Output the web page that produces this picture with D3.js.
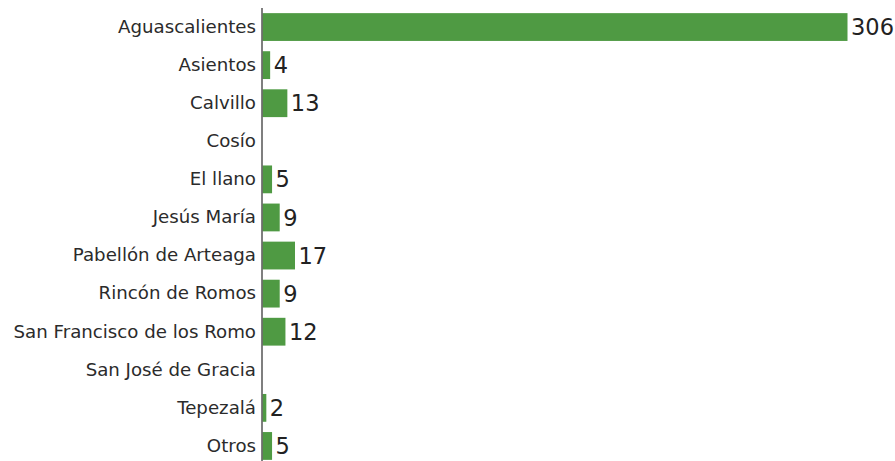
<!DOCTYPE html>
<html>
<head>
<meta charset="utf-8">
<script src="https://cdn.jsdelivr.net/npm/d3@7"></script>
<style>
  html, body { margin: 0; padding: 0; background: #fff; }
  svg { display: block; }
</style>
</head>
<body>
<svg id="chart" width="895" height="461"></svg>
<script>
const categories = ["Aguascalientes", "Asientos", "Calvillo", "Cosío", "El llano", "Jesús María",
  "Pabellón de Arteaga", "Rincón de Romos", "San Francisco de los Romo", "San José de Gracia",
  "Tepezalá", "Otros"];
const values = [306, 4, 13, 0, 5, 9, 17, 9, 12, 0, 2, 5];

const svg = d3.select("#chart");
const axisX = 262;

const x = d3.scaleLinear().domain([0, 306]).range([axisX, 847]);
const y = d3.scaleBand().domain(categories).range([8, 465]).paddingInner(0.27).paddingOuter(0.135);

const data = categories.map((c, i) => ({ c, v: values[i] }));

svg.selectAll("rect.bar").data(data.filter(d => d.v > 0)).join("rect")
  .attr("class", "bar")
  .attr("x", x(0) + 0.5)
  .attr("y", d => y(d.c))
  .attr("width", d => x(d.v) - x(0))
  .attr("height", y.bandwidth())
  .attr("fill", "#4f9a43");

const yAxis = d3.axisLeft(y).tickSize(0).tickPadding(6);
const g = svg.append("g").attr("transform", `translate(${axisX},0)`).call(yAxis);
g.select(".domain").remove();
g.selectAll("text")
  .attr("font-family", "DejaVu Sans")
  .attr("font-size", 18.2)
  .attr("fill", "#2b2b2b");

svg.append("line")
  .attr("x1", axisX).attr("x2", axisX)
  .attr("y1", 8).attr("y2", 461)
  .attr("stroke", "#555").attr("stroke-width", 1.5);

svg.selectAll("text.val").data(data.filter(d => d.v > 0)).join("text")
  .attr("class", "val")
  .attr("x", d => x(d.v) + 4)
  .attr("y", d => y(d.c) + y.bandwidth() / 2)
  .attr("dy", "0.36em")
  .attr("font-family", "DejaVu Sans")
  .attr("font-size", 22.5)
  .attr("fill", "#222")
  .text(d => d.v);
</script>
</body>
</html>
